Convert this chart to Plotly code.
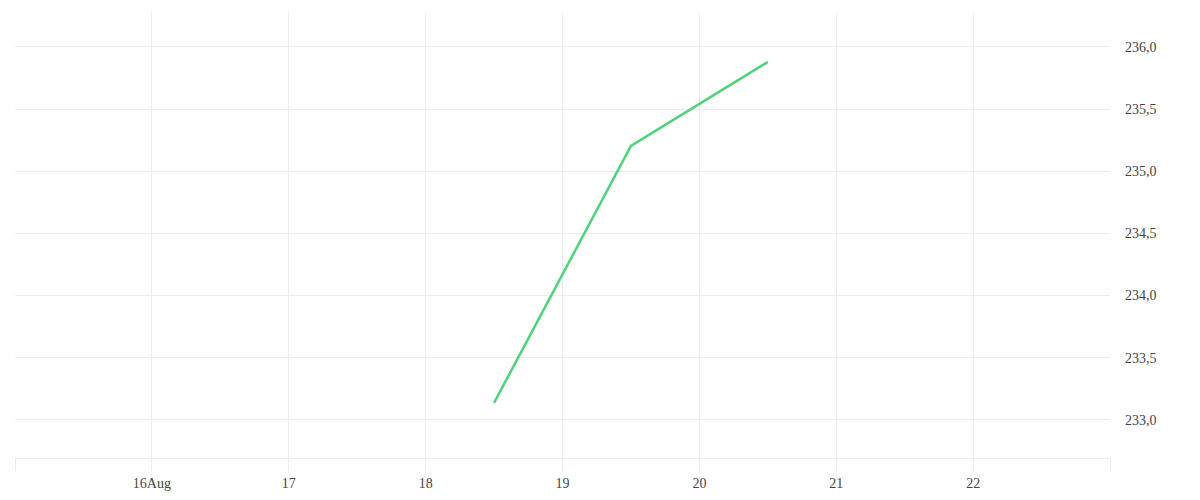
import plotly.graph_objects as go

dates = ["2024-08-18 12:00", "2024-08-19 12:00", "2024-08-20 12:00"]
values = [233.137, 235.204, 235.879]
x_tickvals = ["2024-08-15", "2024-08-16", "2024-08-17", "2024-08-18", "2024-08-19",
              "2024-08-20", "2024-08-21", "2024-08-22", "2024-08-23"]
x_ticktext = ["", "16Aug", "17", "18", "19", "20", "21", "22", ""]

GRID = "#ececec"
FONT = "Liberation Serif"
TXT = "#444444"

fig = go.Figure(go.Scatter(
    x=dates, y=values, mode="lines",
    line=dict(color="#4fd37a", width=2.5),
    hoverinfo="x+y",
))

fig.update_layout(
    width=1200, height=500,
    margin=dict(l=7, r=84, t=4, b=50),
    paper_bgcolor="white", plot_bgcolor="white",
    separators=",.",
    showlegend=False,
    font=dict(family=FONT, size=14, color=TXT),
    xaxis=dict(
        type="date",
        domain=[0, 1095 / 1109],
        range=["2024-08-15", "2024-08-23"],
        tickvals=x_tickvals, ticktext=x_ticktext,
        showgrid=True, gridcolor=GRID, gridwidth=1,
        showline=True, linecolor=GRID, linewidth=1,
        ticks="outside", ticklen=12, tickcolor=GRID,
        zeroline=False,
        tickfont=dict(family=FONT, size=14, color=TXT),
    ),
    yaxis=dict(
        side="right", anchor="free", position=1,
        range=[232.694, 236.28],
        dtick=0.5, tick0=233,
        tickformat=".1f",
        showgrid=True, gridcolor=GRID, gridwidth=1,
        zeroline=False, showline=False,
        ticks="",
        tickfont=dict(family=FONT, size=14, color=TXT),
    ),
)

fig.write_html("out.html")
